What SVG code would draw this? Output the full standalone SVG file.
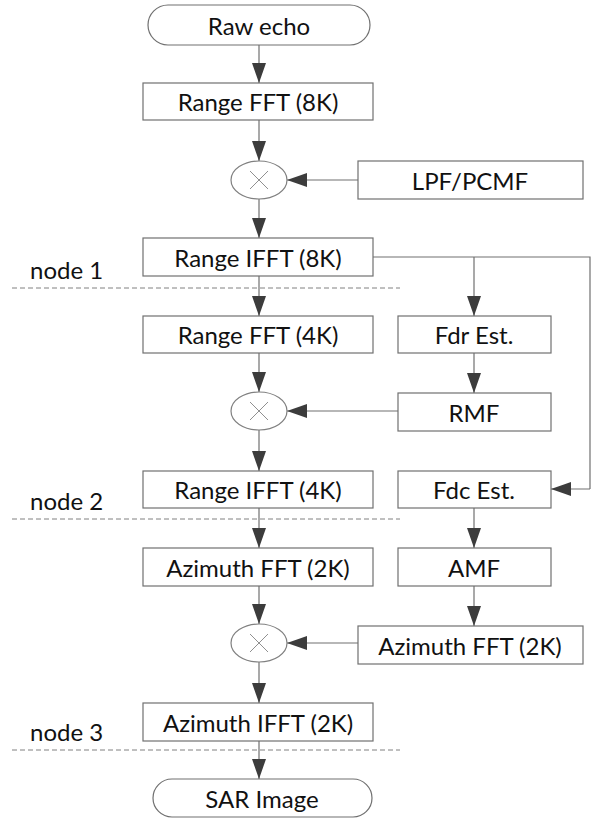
<svg xmlns="http://www.w3.org/2000/svg" width="595" height="819" viewBox="0 0 595 819">
<defs>
<marker id="ah" viewBox="0 0 20 14" refX="20" refY="7" markerWidth="20" markerHeight="14" markerUnits="userSpaceOnUse" orient="auto">
<path d="M0,0 L20,7 L0,14 Z" fill="#3c3c3c"/>
</marker>
</defs>
<style>
.box{fill:#fff;stroke:#707070;stroke-width:1.2}
.mul{fill:#fff;stroke:#808080;stroke-width:1.2}
.x{stroke:#909090;stroke-width:1}
.t{font-family:Lato,"Open Sans","Liberation Sans",sans-serif;font-size:24px;fill:#111;text-anchor:middle;dominant-baseline:central}
.lbl{font-family:Lato,"Open Sans","Liberation Sans",sans-serif;font-size:24px;fill:#111}
.c{fill:none;stroke:#707070;stroke-width:1.2}
.a{marker-end:url(#ah)}
.dash{stroke:#808080;stroke-width:1;stroke-dasharray:5,3}
</style>
<rect width="595" height="819" fill="#fff"/>
<g id="connectors">
<line class="c a" x1="259" y1="45" x2="259" y2="83"/>
<line class="c a" x1="259" y1="120" x2="259" y2="161"/>
<line class="c a" x1="358" y1="180" x2="287" y2="180"/>
<line class="c a" x1="259" y1="199" x2="259" y2="238"/>
<line class="c a" x1="259" y1="276" x2="259" y2="316"/>
<polyline class="c" points="373,257 590,257 590,489"/>
<line class="c a" x1="590" y1="489" x2="551" y2="489"/>
<line class="c a" x1="474" y1="257" x2="474" y2="316"/>
<line class="c a" x1="474" y1="353" x2="474" y2="393"/>
<line class="c a" x1="259" y1="353" x2="259" y2="392"/>
<line class="c a" x1="398" y1="411" x2="287" y2="411"/>
<line class="c a" x1="259" y1="430" x2="259" y2="471"/>
<line class="c a" x1="259" y1="508" x2="259" y2="548"/>
<line class="c a" x1="474" y1="508" x2="474" y2="548"/>
<line class="c a" x1="474" y1="586" x2="474" y2="626"/>
<line class="c a" x1="259" y1="586" x2="259" y2="624"/>
<line class="c a" x1="358" y1="643" x2="287" y2="643"/>
<line class="c a" x1="259" y1="662" x2="259" y2="703"/>
<line class="c a" x1="259" y1="741" x2="259" y2="779"/>
</g>
<g id="dividers">
<line class="dash" x1="12" y1="288" x2="400" y2="288"/>
<line class="dash" x1="12" y1="519" x2="400" y2="519"/>
<line class="dash" x1="12" y1="750" x2="400" y2="750"/>
<text class="lbl" x="30" y="279">node 1</text>
<text class="lbl" x="30" y="510">node 2</text>
<text class="lbl" x="30" y="741">node 3</text>
</g>
<g id="raw-echo"><rect class="box" x="148" y="5" width="222" height="40" rx="20"/><text class="t" x="259" y="25">Raw echo</text></g>
<g id="range-fft-8k"><rect class="box" x="143" y="83" width="230" height="37"/><text class="t" x="258" y="101">Range FFT (8K)</text></g>
<g id="mul1"><ellipse class="mul" cx="259" cy="180" rx="28" ry="19"/><path class="x" d="M250,171 L268,189 M268,171 L250,189"/></g>
<g id="lpf-pcmf"><rect class="box" x="358" y="161" width="225" height="38"/><text class="t" x="470" y="180">LPF/PCMF</text></g>
<g id="range-ifft-8k"><rect class="box" x="143" y="238" width="230" height="38"/><text class="t" x="258" y="257">Range IFFT (8K)</text></g>
<g id="range-fft-4k"><rect class="box" x="143" y="316" width="230" height="37"/><text class="t" x="258" y="334">Range FFT (4K)</text></g>
<g id="fdr-est"><rect class="box" x="398" y="316" width="153" height="37"/><text class="t" x="474" y="334">Fdr Est.</text></g>
<g id="mul2"><ellipse class="mul" cx="259" cy="411" rx="28" ry="19"/><path class="x" d="M250,402 L268,420 M268,402 L250,420"/></g>
<g id="rmf"><rect class="box" x="398" y="393" width="153" height="38"/><text class="t" x="474" y="412">RMF</text></g>
<g id="range-ifft-4k"><rect class="box" x="143" y="471" width="230" height="37"/><text class="t" x="258" y="489">Range IFFT (4K)</text></g>
<g id="fdc-est"><rect class="box" x="398" y="471" width="153" height="37"/><text class="t" x="474" y="489">Fdc Est.</text></g>
<g id="azimuth-fft-2k"><rect class="box" x="143" y="548" width="230" height="38"/><text class="t" x="258" y="567">Azimuth FFT (2K)</text></g>
<g id="amf"><rect class="box" x="398" y="548" width="153" height="38"/><text class="t" x="474" y="567">AMF</text></g>
<g id="mul3"><ellipse class="mul" cx="259" cy="643" rx="28" ry="19"/><path class="x" d="M250,634 L268,652 M268,634 L250,652"/></g>
<g id="azimuth-fft-2k-r"><rect class="box" x="358" y="626" width="225" height="38"/><text class="t" x="470" y="645">Azimuth FFT (2K)</text></g>
<g id="azimuth-ifft-2k"><rect class="box" x="143" y="703" width="230" height="38"/><text class="t" x="258" y="722">Azimuth IFFT (2K)</text></g>
<g id="sar-image"><rect class="box" x="153" y="779" width="219" height="38" rx="19"/><text class="t" x="262" y="798">SAR Image</text></g>
</svg>
